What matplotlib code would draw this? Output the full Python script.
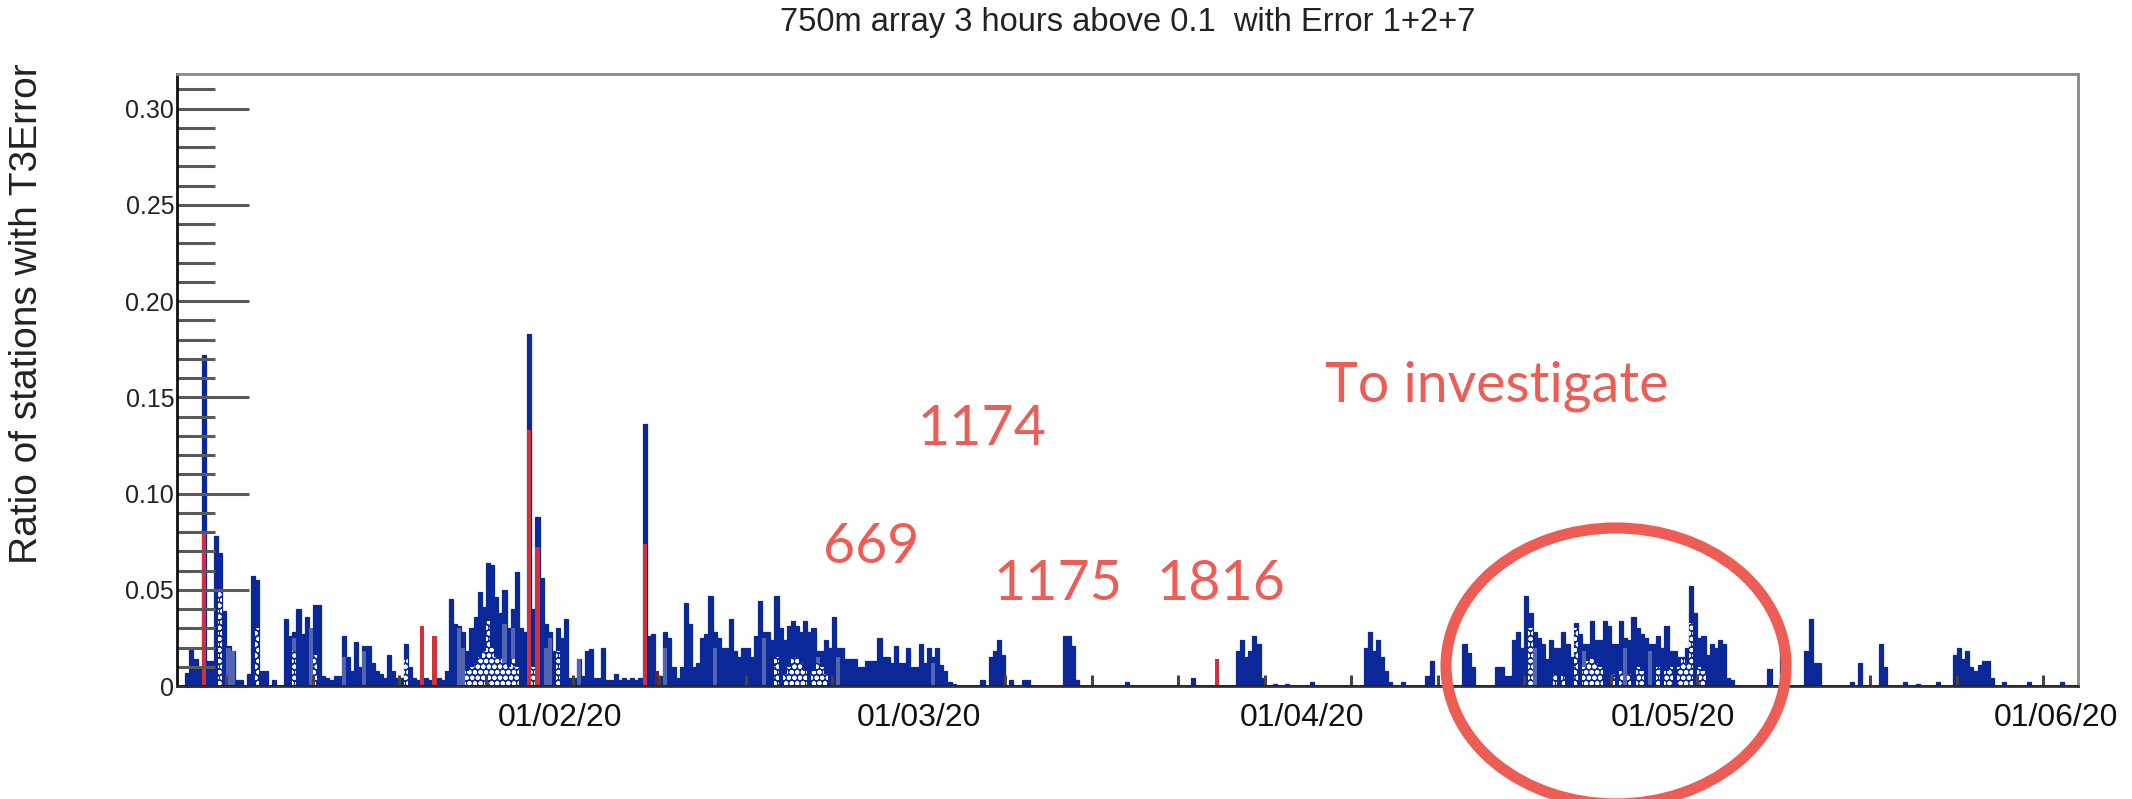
"""
750m array: ratio of stations with T3Error (Error 1+2+7), Jan-Jun 2020.
Histogram in 8-hour bins, annotated by hand.
"""

import numpy as np
import matplotlib

matplotlib.use("Agg")
import matplotlib.pyplot as plt
from matplotlib.patches import Ellipse

# ratio of stations with T3Error per 8h bin, in units of 1e-3 (bin 0 starts 01/01/20)
jan = [0, 0, 7, 19, 14, 10, 172, 13, 13, 78, 69, 39, 21, 18, 3, 3, 0, 6, 57, 55,
       8, 8, 0, 3, 0, 0, 35, 26, 28, 40, 27, 36, 20, 42, 42, 5, 4, 3, 5, 5,
       26, 15, 8, 23, 10, 21, 21, 12, 8, 6, 4, 16, 8, 4, 4, 22, 10, 4, 3, 4,
       4, 3, 3, 4, 3, 8, 45, 32, 31, 28, 18, 30, 36, 49, 41, 64, 63, 46, 38, 50,
       30, 40, 59, 30, 28, 183, 40, 88, 56, 32, 28, 18, 30]
feb = [25, 35, 4, 4, 14, 5, 18, 19, 4, 4, 20, 3, 3, 6, 3, 4, 3, 4, 3, 4,
       136, 26, 27, 4, 5, 28, 25, 10, 4, 10, 43, 32, 10, 12, 25, 27, 47, 28, 25, 20,
       20, 35, 18, 15, 20, 20, 15, 26, 44, 28, 28, 24, 47, 30, 24, 31, 34, 31, 28, 34,
       28, 30, 18, 18, 24, 20, 36, 20, 20, 14, 14, 14, 10, 10, 13, 13, 13, 25, 15, 15,
       12, 21, 12, 12, 20, 10, 10]
mar = [22, 12, 20, 15, 20, 11, 8, 2, 1, 0, 0, 0, 0, 0, 0, 3, 0, 15, 18, 24,
       16, 0, 3, 0, 0, 3, 3, 0, 0, 0, 0, 0, 0, 0, 0, 26, 26, 21, 3, 0,
       0, 0, 0, 0, 0, 0, 0, 0, 0, 0, 2, 0, 0, 0, 0, 0, 0, 0, 0, 0,
       0, 0, 0, 0, 0, 0, 4, 0, 0, 0, 0, 0, 0, 0, 0, 0, 0, 18, 24, 15,
       18, 26, 22, 4, 0, 0, 1, 0, 0, 1, 0, 0, 0]
apr = [0, 0, 2, 0, 0, 0, 0, 0, 0, 0, 0, 0, 0, 0, 0, 20, 28, 18, 24, 15,
       8, 2, 0, 0, 2, 0, 0, 0, 0, 0, 5, 13, 0, 0, 0, 0, 0, 0, 0, 22,
       17, 10, 0, 0, 0, 0, 0, 10, 10, 5, 5, 24, 28, 20, 47, 38, 28, 25, 22, 14,
       24, 20, 20, 28, 22, 15, 33, 27, 22, 22, 34, 24, 24, 34, 31, 22, 22, 34, 25, 24,
       36, 30, 27, 25, 22, 22, 26, 20, 31, 18]
may = [18, 15, 15, 20, 52, 38, 25, 26, 16, 22, 20, 24, 22, 4, 3, 0, 0, 0, 0, 0,
       0, 0, 0, 9, 0, 0, 26, 10, 0, 0, 0, 0, 18, 35, 12, 12, 0, 0, 0, 0,
       0, 0, 0, 2, 0, 12, 0, 0, 0, 0, 22, 10, 0, 0, 0, 0, 2, 0, 0, 1,
       0, 0, 0, 0, 2, 0, 0, 0, 16, 20, 14, 18, 10, 8, 11, 13, 13, 4, 0, 0,
       2, 0, 0, 0, 0, 0, 2, 0, 0, 0, 0, 0, 0]
jun = [0, 2, 0, 0, 0, 0]

# Error 7 part (red), bin -> value * 1e3
red_bins = {6: 80, 59: 31, 62: 26, 85: 133, 87: 72, 113: 74, 252: 14}
dark_red_bins = {116: 8}
# lighter blue columns and dotted-pattern part, bin -> value * 1e3
light_bins = {10: 40, 12: 20, 13: 18, 28: 25, 32: 30, 40: 15, 45: 18, 68: 30, 69: 20,
              79: 32, 81: 30, 89: 20, 90: 25, 97: 14, 118: 20, 130: 20, 142: 25,
              155: 15, 160: 15, 183: 12, 329: 20, 341: 18, 351: 20, 357: 18}
dotted_bins = {10: 50, 19: 30, 28: 18, 33: 16, 55: 14, 70: 8, 71: 10, 72: 12, 73: 15,
               74: 18, 75: 34, 76: 20, 77: 15, 78: 14, 79: 12, 80: 10, 81: 14, 82: 10,
               86: 10, 92: 18, 145: 15, 147: 6, 148: 10, 149: 14, 150: 15, 151: 12,
               152: 8, 154: 8, 155: 12, 156: 10, 157: 6, 328: 30, 334: 6, 336: 5,
               339: 30, 341: 10, 342: 13, 343: 14, 344: 12, 345: 10, 348: 6, 350: 8,
               352: 6, 354: 10, 355: 8, 359: 10, 361: 8, 362: 10, 364: 10, 365: 14,
               366: 12, 367: 33, 369: 10, 370: 8}

month_ticks = [31, 60, 91, 121, 152]
month_labels = ["01/02/20", "01/03/20", "01/04/20", "01/05/20", "01/06/20"]
sunday_ticks = list(range(4, 154, 7))

# hand-written notes: text, centre x and baseline y in figure fraction
notes = [("1174", 0.4606, 0.4431), ("669", 0.4085, 0.2954), ("1175", 0.4962, 0.2491),
         ("1816", 0.5727, 0.2491), ("To investigate", 0.7021, 0.4969)]

DARK = "#0a2898"
LIGHT = "#5364b3"
RED = "#d3303a"
DARK_RED = "#7a1c1c"
NOTE = "#ec5d56"

plt.rcParams["font.family"] = ["Liberation Sans", "DejaVu Sans"]
plt.rcParams["hatch.linewidth"] = 1.4


def sparse(d, n):
    arr = np.zeros(n)
    for b, v in d.items():
        arr[b] = v * 1e-3
    return arr


total = np.array(jan + feb + mar + apr + may + jun) * 1e-3
nbins = len(total)
edges = np.arange(nbins + 1) / 3.0

fig = plt.figure(figsize=(21.32, 7.99), dpi=100)
ax = fig.add_axes([0.0830, 0.1414, 0.8917, 0.7660])

# ROOT-style filled histogram with outline in the same colour
ax.stairs(total, edges, fill=True, facecolor=DARK, edgecolor=DARK, linewidth=0.9)
ax.stairs(sparse(light_bins, nbins), edges, fill=True, color=LIGHT, linewidth=0)
ax.stairs(sparse(dotted_bins, nbins), edges, fill=True, facecolor=DARK,
          edgecolor="white", hatch="ooo", linewidth=0)
ax.stairs(sparse(red_bins, nbins), edges, fill=True, color=RED, linewidth=0)
ax.stairs(sparse(dark_red_bins, nbins), edges, fill=True, color=DARK_RED, linewidth=0)
ax.axhline(0, color="#4a1010", lw=2.0, zorder=5)

ax.set_xlim(0, 153.8)
ax.set_ylim(0, 0.318)

# axes frame
ax.spines["left"].set_color("#111111")
ax.spines["bottom"].set_color("#333333")
ax.spines["top"].set_color("#888888")
ax.spines["right"].set_color("#888888")
for s in ax.spines.values():
    s.set_linewidth(2.0)

ax.set_yticks(np.arange(0, 0.301, 0.05))
ax.set_yticklabels(["0", "0.05", "0.10", "0.15", "0.20", "0.25", "0.30"])
ax.set_yticks(np.arange(0, 0.315, 0.01), minor=True)
ax.tick_params(axis="y", which="major", direction="in", length=52, width=2.2,
               color="#5a5a5a", labelsize=18, pad=2, labelcolor="#222222")
ax.tick_params(axis="y", which="minor", direction="in", length=27, width=2.2,
               color="#5a5a5a")

ax.set_xticks(month_ticks)
ax.set_xticklabels(month_labels)
ax.set_xticks(sunday_ticks, minor=True)
ax.tick_params(axis="x", which="major", length=0, labelsize=23, pad=12,
               labelcolor="#111111")
ax.tick_params(axis="x", which="minor", direction="in", length=8, width=2.2,
               color="#444444")

fig.text(0.529, 0.972, "750m array 3 hours above 0.1  with Error 1+2+7",
         ha="center", va="center", fontsize=23.5, color="#222222")
fig.text(0.0127, 0.607, "Ratio of stations with T3Error", rotation=90,
         ha="center", va="center", fontsize=28, color="#222222")

for txt, nx, ny in notes:
    fig.text(nx, ny, txt, ha="center", va="baseline", fontsize=40, color=NOTE,
             family=["Lato", "DejaVu Sans"])

fig.add_artist(Ellipse((0.758, 0.1665), 0.1595, 0.3454, transform=fig.transFigure,
                       fill=False, edgecolor=NOTE, linewidth=8, clip_on=False))

fig.savefig("out.png", dpi=100)
